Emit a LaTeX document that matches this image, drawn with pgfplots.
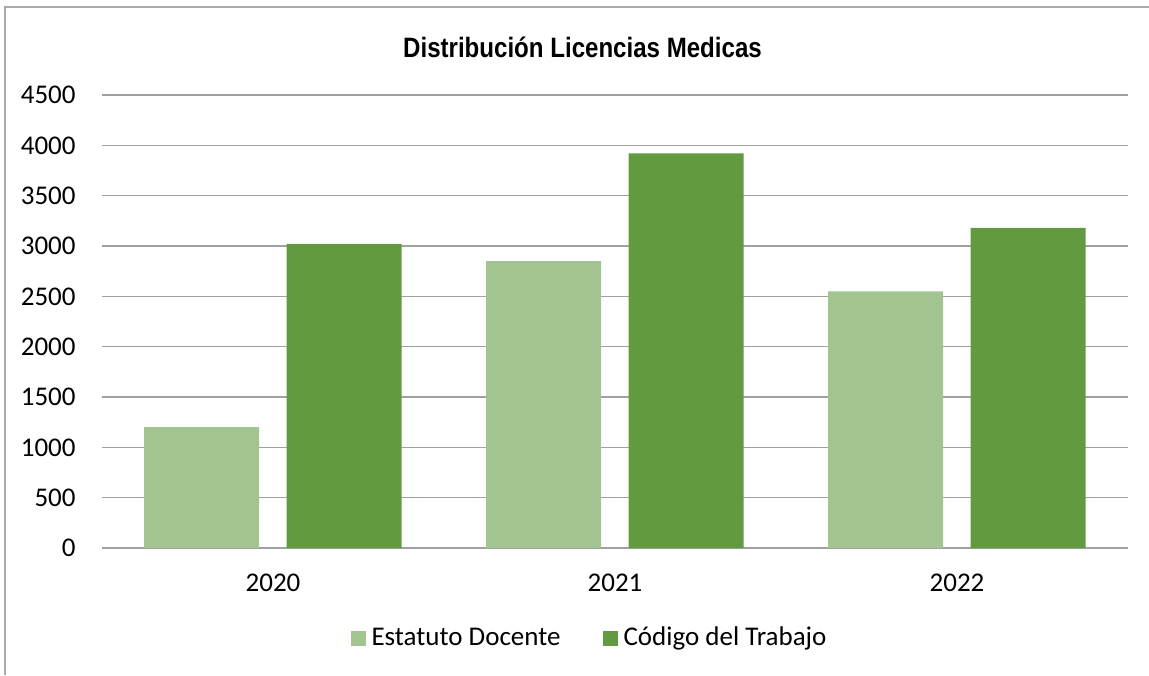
\documentclass[border=0pt]{standalone}
\usepackage{fontspec}
\setmainfont{Carlito}
\newfontfamily\titlefont{Liberation Sans}
\usepackage{pgfplots}
\pgfplotsset{compat=1.18}
\definecolor{lightg}{RGB}{162,196,144}
\definecolor{darkg}{RGB}{98,154,63}
\definecolor{gridc}{RGB}{160,160,160}
\definecolor{framec}{RGB}{170,170,170}
\begin{document}
\begin{tikzpicture}[x=0.5pt,y=0.5pt]
\path[use as bounding box] (0,0) rectangle (1149,675);
\draw[framec,line width=1pt] (5,0) -- (5,668) -- (1149,668);
\node[font=\titlefont\bfseries\fontsize{14pt}{16pt}\selectfont, xscale=0.86] at (582.5,628) {Distribución Licencias Medicas};
\begin{axis}[
  at={(102pt*0.5,127pt*0.5)}, anchor=south west,
  scale only axis, width=513pt, height=226.5pt,
  xmin=-0.5, xmax=2.5, ymin=0, ymax=4500,
  ytick={0,500,...,4500},
  xtick={0,1,2}, xticklabels={2020,2021,2022},
  ybar, bar width=57.5pt,
  axis line style={draw=none},
  major tick length=0pt,
  ymajorgrids, grid style={gridc, line width=0.7pt},
  tick label style={font=\fontsize{13.5pt}{15pt}\selectfont},
  yticklabel style={inner sep=0pt, xshift=-13pt},
  xticklabel style={inner sep=0pt, yshift=-13pt},
  /pgf/number format/1000 sep={},
  /pgf/number format/assume math mode=true,
  legend style={at={(0.4761,-0.1987)}, anchor=center, draw=none, legend columns=2,
     font=\fontsize{13.5pt}{15pt}\selectfont,
     /tikz/every even column/.append style={column sep=19pt}},
  legend cell align=left,
  legend image code/.code={\fill[#1] (0pt,-3.75pt) rectangle (7.5pt,3.75pt); \path (8.5pt,0pt);},
]
\addplot[fill=lightg, draw=none, bar shift=-35.75pt] coordinates {(0,1200) (1,2850) (2,2550)};
\addplot[fill=darkg, draw=none, bar shift=35.5pt] coordinates {(0,3020) (1,3920) (2,3180)};
\legend{Estatuto Docente, Código del Trabajo}
\end{axis}
\end{tikzpicture}
\end{document}
